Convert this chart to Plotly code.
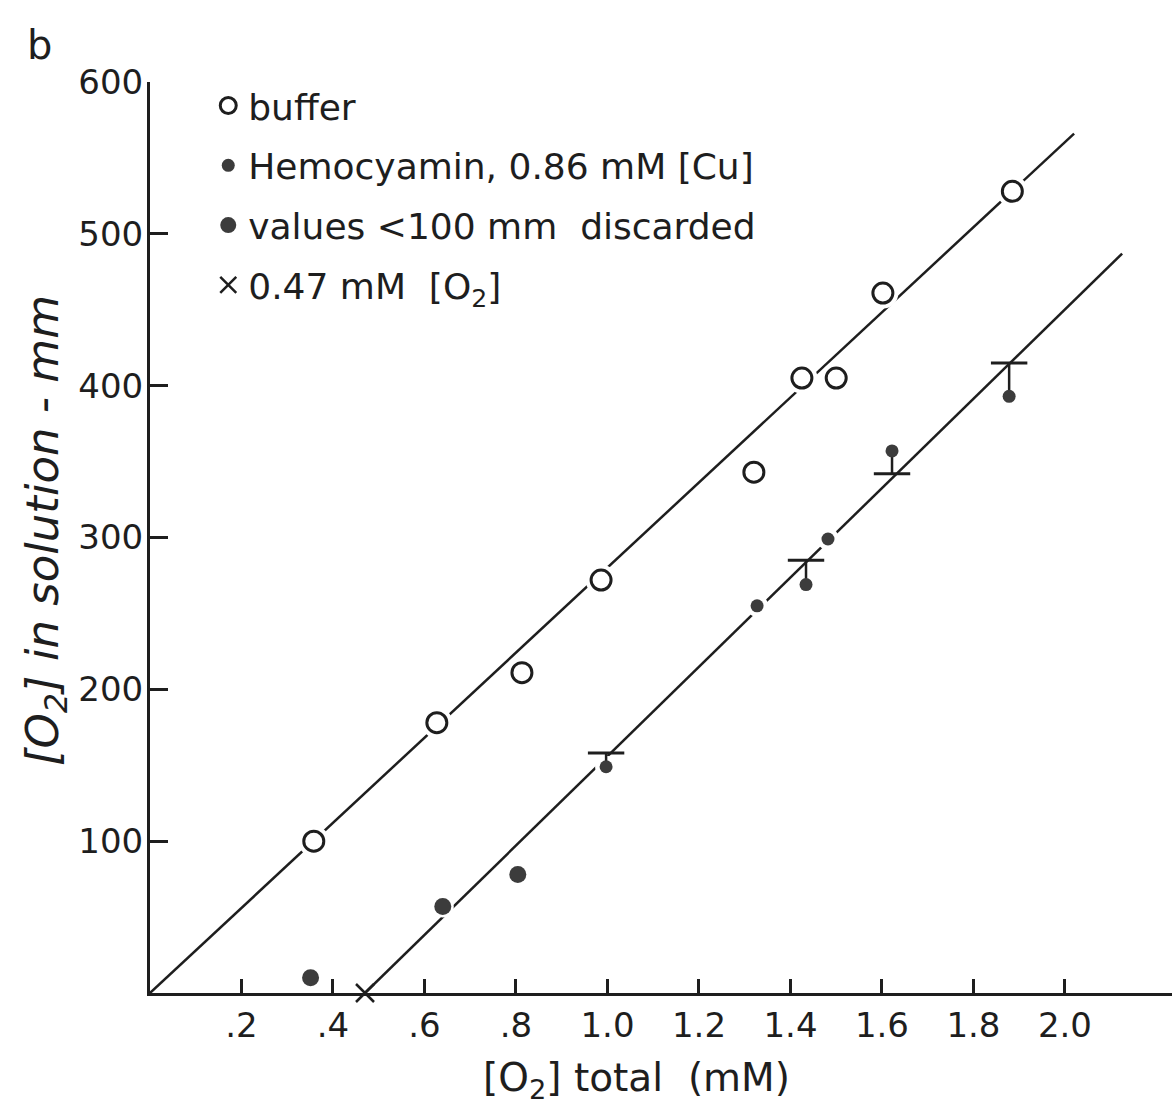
import plotly.graph_objects as go

# Oxygen in buffer (open circles)
buffer_x = [0.358, 0.627, 0.813, 0.986, 1.320, 1.425, 1.500, 1.602, 1.885]
buffer_y = [100, 178, 211, 272, 343, 405, 405, 461, 528]

# Hemocyanin, 0.86 mM [Cu] (small filled dots)
hemo_x = [0.997, 1.327, 1.434, 1.482, 1.622, 1.878]
hemo_y = [149, 255, 269, 299, 357, 393]

# Bars from a hemocyanin point to its corrected value
cap_x = [0.997, 1.434, 1.622, 1.878]
cap_y = [158, 285, 342, 415]

# Values below 100 mm, discarded (large filled dots)
discard_x = [0.351, 0.640, 0.804]
discard_y = [10, 57, 78]

# Intercept: 0.47 mM bound O2
intercept_x = [0.47]
intercept_y = [0]

# Fitted lines
buffer_fit_x = [0.0, 2.02]
buffer_fit_y = [0, 566]
hemo_fit_x = [0.47, 2.125]
hemo_fit_y = [0, 487]

x_ticks = [0.2, 0.4, 0.6, 0.8, 1.0, 1.2, 1.4, 1.6, 1.8, 2.0]
x_tick_text = [".2", ".4", ".6", ".8", "1.0", "1.2", "1.4", "1.6", "1.8", "2.0"]
y_ticks = [100, 200, 300, 400, 500, 600]
y_tick_text = ["100", "200", "300", "400", "500", "600"]

INK = "#1e1e1e"
DOT = "#3c3c3c"
FONT = "DejaVu Sans"

fig = go.Figure()

# regression lines
fig.add_trace(go.Scatter(x=buffer_fit_x, y=buffer_fit_y, mode="lines",
                         line=dict(color=INK, width=2.5),
                         showlegend=False, hoverinfo="skip"))
fig.add_trace(go.Scatter(x=hemo_fit_x, y=hemo_fit_y, mode="lines",
                         line=dict(color=INK, width=2.5),
                         showlegend=False, hoverinfo="skip"))

# white halos that open a small gap in the lines around each symbol
fig.add_trace(go.Scatter(x=buffer_x, y=buffer_y, mode="markers",
                         marker=dict(size=31, color="white"),
                         showlegend=False, hoverinfo="skip"))
fig.add_trace(go.Scatter(x=hemo_x + discard_x, y=hemo_y + discard_y, mode="markers",
                         marker=dict(size=22, color="white"),
                         showlegend=False, hoverinfo="skip"))

# stems from point to bar
dot_y = dict(zip(hemo_x, hemo_y))
stem_x, stem_y = [], []
for cx, cy in zip(cap_x, cap_y):
    stem_x += [cx, cx, None]
    stem_y += [dot_y[cx], cy, None]
fig.add_trace(go.Scatter(x=stem_x, y=stem_y, mode="lines",
                         line=dict(color=INK, width=2.5),
                         showlegend=False, hoverinfo="skip"))
fig.add_trace(go.Scatter(x=cap_x, y=cap_y, mode="markers",
                         marker=dict(symbol="line-ew", size=26,
                                     line=dict(color=INK, width=3)),
                         showlegend=False, hoverinfo="skip"))

# data series
fig.add_trace(go.Scatter(x=buffer_x, y=buffer_y, mode="markers", name="buffer",
                         legendgroup="a",
                         marker=dict(symbol="circle-open", size=20, color=INK,
                                     line=dict(color=INK, width=3))))
fig.add_trace(go.Scatter(x=hemo_x, y=hemo_y, mode="markers",
                         name="Hemocyamin, 0.86 mM [Cu]", legendgroup="b",
                         marker=dict(symbol="circle", size=13, color=DOT)))
fig.add_trace(go.Scatter(x=discard_x, y=discard_y, mode="markers",
                         name="values &lt;100 mm  discarded", legendgroup="c",
                         marker=dict(symbol="circle", size=17, color=DOT)))
fig.add_trace(go.Scatter(x=intercept_x, y=intercept_y, mode="markers",
                         name="0.47 mM  [O<sub>2</sub>]", legendgroup="d",
                         cliponaxis=False,
                         marker=dict(symbol="x-thin", size=18, color=INK,
                                     line=dict(color=INK, width=2.5))))

axis_common = dict(showline=True, linewidth=3, linecolor=INK, ticks="inside",
                   tickwidth=2.5, tickcolor=INK, showgrid=False, zeroline=False,
                   tickfont=dict(family=FONT, size=34, color=INK))

fig.update_layout(
    width=1175, height=1110,
    margin=dict(l=150, r=3, t=82, b=117),
    paper_bgcolor="white", plot_bgcolor="white",
    font=dict(family=FONT, color=INK),
    xaxis=dict(range=[0, 2.234], tickvals=x_ticks, ticktext=x_tick_text,
               ticklen=14, ticklabelstandoff=0, **axis_common),
    yaxis=dict(range=[0, 600], tickvals=y_ticks, ticktext=y_tick_text,
               ticklen=18, ticklabelstandoff=-3, **axis_common),
    legend=dict(x=0.057, y=1.007, xanchor="left", yanchor="top",
                bgcolor="rgba(0,0,0,0)", borderwidth=0,
                font=dict(family=FONT, size=36, color=INK),
                tracegroupgap=10, itemsizing="trace"),
    annotations=[
        dict(text="b", x=-0.108, y=1.041, xref="paper", yref="paper",
             showarrow=False, xanchor="center", yanchor="middle",
             font=dict(family=FONT, size=40, color=INK)),
        dict(text="[O<sub>2</sub>] total  (mM)", x=0.4765, y=-0.0955,
             xref="paper", yref="paper", showarrow=False,
             xanchor="center", yanchor="middle",
             font=dict(family=FONT, size=39, color=INK)),
        dict(text="<i>[O<sub>2</sub>] in solution - mm</i>", x=-0.103, y=0.508,
             xref="paper", yref="paper", showarrow=False, textangle=-90,
             xanchor="center", yanchor="middle",
             font=dict(family=FONT, size=45, color=INK)),
    ],
)

fig.write_html("out.html")
